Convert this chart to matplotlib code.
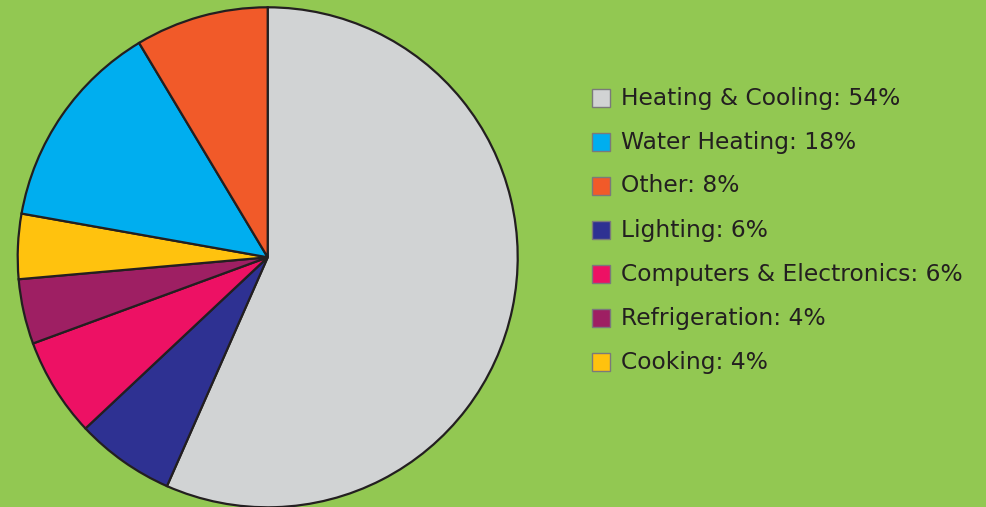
import matplotlib
matplotlib.use("Agg")
import matplotlib.pyplot as plt
from matplotlib.patches import Rectangle

# slices in drawing order (clockwise from 12 o'clock), sizes
slice_names = ["Heating & Cooling", "Lighting", "Computers & Electronics",
               "Refrigeration", "Cooking", "Water Heating", "Other"]
slice_sizes = [56.6, 6.4, 6.4, 4.2, 4.2, 13.6, 8.6]
slice_colors = ["#D1D3D4", "#2E3192", "#ED1164", "#9E1F63",
                "#FFC20E", "#00AEEF", "#F15A29"]

# legend order and printed labels
legend_names = ["Heating & Cooling", "Water Heating", "Other", "Lighting",
                "Computers & Electronics", "Refrigeration", "Cooking"]
legend_pcts = [54, 18, 8, 6, 6, 4, 4]

W, H = 987, 507
bg = "#92C852"
ink = "#231F20"

fig = plt.figure(figsize=(W / 100, H / 100), dpi=100)
fig.patch.set_facecolor(bg)

cx, cy, r = 267.7, 257.3, 250
ax = fig.add_axes([(cx - r) / W, (H - cy - r) / H, 2 * r / W, 2 * r / H])
wedges, _ = ax.pie(slice_sizes, colors=slice_colors, startangle=90, counterclock=False,
                   radius=1, wedgeprops=dict(edgecolor=ink, linewidth=1.6))
for w in wedges:
    w.set_clip_on(False)
ax.set_xlim(-1, 1)
ax.set_ylim(-1, 1)
ax.set_aspect("equal")
ax.axis("off")

colour_of = dict(zip(slice_names, slice_colors))
y0, step, box = 98, 44, 18
for i, (name, pct) in enumerate(zip(legend_names, legend_pcts)):
    y = y0 + step * i
    fig.patches.append(Rectangle((592 / W, (H - y - box / 2) / H), box / W, box / H,
                                 transform=fig.transFigure, facecolor=colour_of[name],
                                 edgecolor="#7a7a7a", linewidth=1.0))
    fig.text(621 / W, (H - y) / H, f"{name}: {pct}%", fontsize=16.8,
             color=ink, va="center", ha="left", family="DejaVu Sans")

fig.savefig("out.png", dpi=100, facecolor=bg)
